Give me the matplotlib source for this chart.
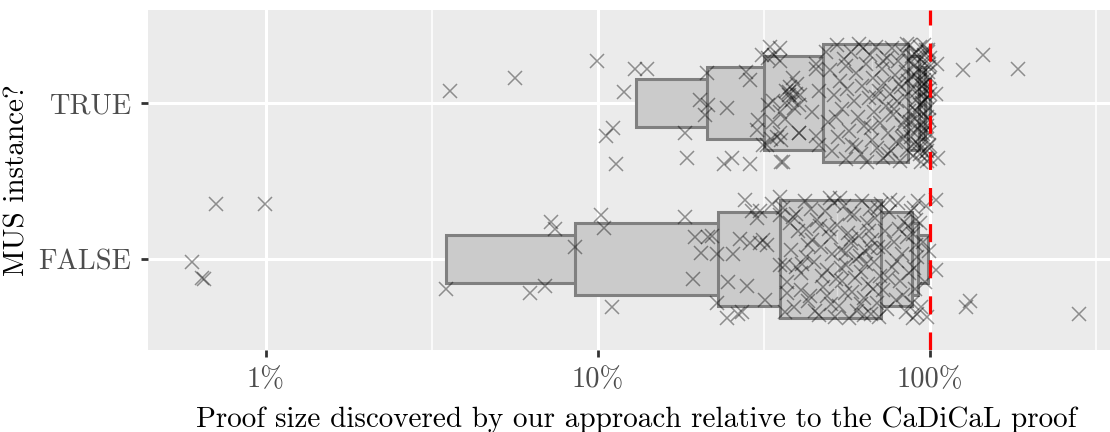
import matplotlib
matplotlib.use("Agg")
import matplotlib.pyplot as plt
import numpy as np

# ---------------- data ----------------
groups = ["FALSE", "TRUE"]
x_ticks = [1, 10, 100]
x_tick_labels = ["1%", "10%", "100%"]

# letter values (percent): outermost -> innermost (lower, upper)
false_lower = [3.49, 8.52, 23.0, 35.3]
false_upper = [98.6, 92.0, 88.3, 71.2]
false_median = 52.5
true_lower = [13.0, 21.3, 31.6, 47.6]
true_upper = [100.0, 96.6, 92.5, 86.0]
true_median = 67.0

# jittered points: value (percent) and vertical jitter (category units)
true_x = [
    3.58, 5.62, 9.9, 10.6, 11.1, 11.3, 12.0, 12.9, 14.0,
    18.3, 18.5, 20.3, 21.0, 21.5, 21.3, 24.4, 25.3, 24.0, 28.7, 28.0, 28.7, 31.2, 33.0, 34.0,
    36.9, 37.5, 38.5, 39.4, 40.3, 38.0, 36.5, 39.0,
    30.4, 30.1, 31.5, 34.5, 35.7, 40.3, 35.5, 45.5,
    35.3, 32.6, 35.3, 38.6, 39.7, 40.6, 37.6, 33.7, 32.6, 35.3, 36.6, 33.7, 35.3, 33.3, 40.3, 32.2, 36.0, 45.3, 46.3, 44.1, 45.3, 46.3,
    48.5, 49.2, 50.1, 50.8, 51.5, 52.3, 53.0, 53.6, 54.2, 55.0, 55.7, 56.3, 57.0, 57.8, 58.4, 59.1, 59.9, 60.6,
    61.2, 61.9, 62.5, 63.3, 64.0, 64.6, 65.3, 66.0, 66.7, 67.3, 68.0, 68.8, 69.4, 70.1, 70.8, 71.5, 72.2, 72.9,
    73.5, 74.2, 74.9, 75.6, 76.3, 77.0, 77.6, 78.3, 79.0, 79.7, 80.3, 81.0, 81.6, 82.3, 83.0, 83.6, 84.2, 84.9,
    85.5, 86.1, 86.7, 87.3, 87.9, 88.5, 89.1, 89.7, 90.3, 90.8, 91.4, 91.9, 92.5, 93.0, 93.5, 94.0, 94.5, 95.0,
    95.5, 96.0, 96.4, 96.9, 97.3, 97.7, 98.1, 98.5, 98.8, 99.1, 99.4, 99.7, 99.9, 100.0,
    52.0, 56.0, 60.0, 63.0, 66.5, 69.0, 72.0, 75.0, 78.0, 80.5, 82.8, 85.0, 86.9, 88.2, 89.5, 90.6, 91.7, 92.8,
    93.8, 94.8, 95.7, 96.6, 97.5, 98.3, 99.0, 99.6, 88.0, 92.0, 95.2, 97.0, 98.6, 99.3, 84.0, 86.3, 91.1, 93.3,
    96.2, 98.0, 99.8, 87.5, 90.0, 94.3, 97.8, 99.5, 93.7, 96.8, 98.9, 91.0, 95.9, 99.2,
    105.0, 104.0, 106.0, 125.7, 144.5, 184.0,
]
true_dy = [
    0.08, 0.16, 0.27, -0.21, -0.16, -0.39, 0.07, 0.22, 0.22,
    -0.19, -0.35, 0.02, -0.08, -0.01, 0.19, -0.03, -0.35, -0.39, -0.39, 0.20, 0.15, 0.31, 0.36, 0.31,
    0.08, 0.05, 0.02, 0.06, -0.01, 0.10, 0.00, -0.03,
    -0.11, -0.17, -0.27, -0.22, -0.24, -0.19, -0.38, 0.25,
    0.35, 0.29, 0.27, 0.16, 0.12, 0.05, 0.07, 0.01, -0.01, -0.06, -0.10, -0.12, -0.19, -0.23, -0.19, -0.27, -0.38, 0.22, 0.08, -0.06, -0.21, -0.27,
    0.33, -0.12, 0.21, -0.31, 0.05, 0.37, -0.22, 0.14, -0.04, 0.28, -0.36, 0.09, -0.18, 0.33, -0.27, 0.01, 0.19, -0.09,
    0.38, -0.33, 0.11, -0.15, 0.25, -0.38, 0.03, 0.31, -0.24, 0.16, -0.06, 0.36, -0.29, 0.08, -0.13, 0.22, -0.35, 0.13,
    -0.02, 0.29, -0.19, 0.06, -0.31, 0.35, -0.08, 0.18, -0.25, 0.01, 0.27, -0.37, 0.10, -0.14, 0.32, -0.21, 0.04, 0.20,
    -0.30, 0.14, -0.05, 0.37, -0.17, 0.09, -0.34, 0.24, -0.10, 0.02, 0.30, -0.26, 0.15, -0.01, 0.36, -0.38, 0.07, -0.20,
    0.26, -0.07, 0.12, -0.32, 0.34, -0.15, 0.04, 0.20, -0.28, 0.09, -0.11, 0.29, -0.36, 0.16,
    -0.09, 0.24, -0.28, 0.35, -0.16, 0.04, 0.27, -0.33, -0.04, 0.12, -0.23, 0.38, -0.12, 0.17, -0.26, 0.33, -0.06, 0.22,
    -0.29, 0.00, 0.31, -0.18, 0.08, -0.37, 0.25, -0.03, 0.30, -0.16, 0.19, -0.24, 0.33, -0.19, -0.11, 0.27, 0.08, -0.33,
    0.37, -0.09, 0.06, -0.22, 0.18, 0.11, -0.31, 0.23, -0.14, 0.02, 0.34, -0.05, 0.15, -0.27,
    0.25, 0.06, -0.35, 0.21, 0.31, 0.22,
]

false_x = [
    0.598, 0.641, 0.65, 0.707, 0.993, 3.49, 6.24, 6.93, 7.2, 7.4, 8.5, 10.2, 10.4, 11.0,
    18.3, 19.6, 21.5, 20.5, 22.9, 25.5, 19.3, 24.6, 28.2, 26.8, 28.7, 30.8, 31.8, 22.9, 24.4, 26.4, 27.1,
    27.7, 29.1, 30.1, 33.4, 30.8, 35.3, 35.3, 22.0, 31.3, 32.3,
    35.3, 36.6, 37.9, 39.6, 42.3, 37.2, 43.5, 36.6, 42.3, 41.3,
    36.0, 37.0, 38.2, 39.0, 40.0, 41.0, 42.0, 43.0, 44.0, 44.8, 45.6, 46.3, 47.0, 47.7, 48.3, 49.0, 49.6,
    50.2, 50.8, 51.4, 52.0, 38.8, 40.8, 42.8, 45.0, 46.8, 48.9, 50.5, 51.8, 39.5, 43.8, 47.3, 49.9,
    52.6, 53.2, 53.9, 54.5, 55.2, 55.8, 56.5, 57.1, 57.8, 58.4, 59.1, 59.8, 60.4, 61.1, 61.8, 62.4,
    63.1, 63.8, 64.4, 65.1, 65.8, 66.4, 67.1, 67.8, 68.4, 69.1, 69.8, 70.5, 71.0, 53.5, 55.5, 57.5,
    59.5, 61.5, 63.5, 65.5, 67.5, 69.5, 54.0, 58.0, 62.0, 66.0, 70.0, 56.0, 64.0,
    72.0, 73.2, 74.3, 75.5, 76.6, 77.8, 78.9, 80.0, 81.1, 82.2, 83.3, 84.4, 85.4, 86.4, 87.4,
    72.6, 76.0, 79.5, 82.8, 86.0, 74.9, 80.6,
    88.5, 88.9, 89.3, 89.7, 90.1, 90.5, 90.9, 91.3, 91.6, 91.9, 89.0,
    93.0, 94.2, 95.3, 96.4, 97.5, 98.3,
    99.2, 104.6, 104.6, 128.3, 131.9, 281.0,
]
false_dy = [
    -0.02, -0.12, -0.13, 0.35, 0.35, -0.19, -0.22, -0.17, 0.24, 0.19, 0.08, 0.28, 0.20, -0.31,
    0.27, 0.14, 0.14, 0.04, 0.03, 0.03, -0.13, -0.15, -0.17, 0.13, 0.10, 0.10, -0.26, -0.28, -0.38, -0.35, -0.34,
    0.38, 0.31, 0.26, 0.35, 0.31, 0.40, 0.28, 0.15, 0.12, 0.09,
    -0.04, -0.04, 0.23, 0.29, 0.19, -0.22, -0.24, -0.34, 0.01, -0.03,
    0.33, -0.15, 0.06, -0.31, 0.18, -0.09, 0.37, -0.27, 0.12, -0.02, 0.25, -0.36, 0.08, -0.18, 0.31, -0.07, 0.19,
    -0.29, 0.03, 0.36, -0.13, 0.27, -0.20, 0.09, -0.33, 0.21, -0.24, 0.14, -0.37, -0.05, 0.32, -0.11, 0.39,
    0.22, -0.30, 0.06, -0.14, 0.34, -0.04, 0.17, -0.38, 0.10, -0.21, 0.28, 0.00, -0.33, 0.15, -0.08, 0.37,
    -0.25, 0.05, 0.23, -0.16, 0.32, -0.35, 0.12, -0.02, 0.26, -0.28, 0.08, -0.11, 0.35, 0.39, -0.22, 0.29,
    -0.12, 0.02, -0.36, 0.18, -0.19, 0.33, -0.06, 0.13, -0.29, 0.07, -0.37, 0.04, -0.03,
    -0.20, 0.18, -0.32, 0.30, -0.05, 0.11, -0.26, 0.36, -0.14, 0.03, 0.24, -0.34, 0.14, -0.09, 0.31,
    0.07, 0.38, -0.01, -0.23, 0.21, -0.12, 0.19,
    -0.28, 0.16, -0.06, 0.33, -0.19, 0.09, 0.25, -0.35, 0.01, 0.37, -0.38,
    0.23, -0.31, 0.11, -0.15, 0.34, -0.37,
    0.05, 0.38, -0.07, -0.31, -0.27, -0.35,
]

# ---------------- style ----------------
plt.rcParams["font.family"] = ["cmr10", "DejaVu Serif"]
plt.rcParams["axes.unicode_minus"] = False
plt.rcParams["axes.formatter.use_mathtext"] = True
plt.rcParams["lines.scale_dashes"] = False

W, H = 1110, 432
fig = plt.figure(figsize=(W / 100, H / 100), dpi=100)
ax = fig.add_axes([148 / W, 82 / H, (W - 148) / W, 340 / H])
ax.set_facecolor("#ebebeb")
for s in ax.spines.values():
    s.set_visible(False)

ax.set_xscale("log")
ax.set_xlim(0.441, 348.6)
ax.set_ylim(-0.583, 1.596)

# grid
for v in x_ticks:
    ax.axvline(v, color="white", lw=2.2, zorder=0.5)
for v in [10 ** 0.5, 10 ** 1.5, 10 ** 2.5]:
    ax.axvline(v, color="white", lw=1.1, zorder=0.5)
for i in range(len(groups)):
    ax.axhline(i, color="white", lw=2.2, zorder=0.5)

# letter-value boxes
half_heights = [0.154, 0.23, 0.30, 0.378]
box_fill = "#cbcbcb"
box_edge = "#808080"
for gi, (lo, up, med) in enumerate([(false_lower, false_upper, false_median),
                                    (true_lower, true_upper, true_median)]):
    for k in range(len(lo)):
        hh = half_heights[k]
        ax.barh(gi, up[k] - lo[k], left=lo[k], height=2 * hh,
                color=box_fill, edgecolor=box_edge, linewidth=2.2, zorder=2)
    ax.plot([med, med], [gi - half_heights[-1], gi + half_heights[-1]],
            color="white", alpha=0.35, lw=1.0, zorder=2.5)

# points
for gi, (xs, dys) in enumerate([(false_x, false_dy), (true_x, true_dy)]):
    n = min(len(xs), len(dys))
    ys = [gi + d for d in dys[:n]]
    ax.plot(xs[:n], ys, linestyle="none", marker="x", markersize=10.5,
            markeredgewidth=1.1, color="black", alpha=0.4, zorder=3)

# reference line at 100%
ax.axvline(100, color="#ff0000", lw=2.3, linestyle=(0, (13, 13)), zorder=4)

# ticks
ax.set_xticks(x_ticks)
ax.set_xticklabels(x_tick_labels)
ax.xaxis.set_minor_locator(matplotlib.ticker.NullLocator())
ax.set_yticks(range(len(groups)))
ax.set_yticklabels(groups)
ax.tick_params(axis="both", which="major", length=5, width=2.0, color="#333333",
               labelcolor="#4d4d4d", labelsize=20.5)
ax.tick_params(axis="x", pad=7)
ax.tick_params(axis="y", pad=7)

ax.set_xlabel("Proof size discovered by our approach relative to the CaDiCaL proof",
              fontsize=21, color="black", labelpad=10)
ax.xaxis.label.set_x(0.508)
ax.set_ylabel("MUS instance?", fontsize=21, color="black", labelpad=6)

fig.savefig("out.png", dpi=100)
